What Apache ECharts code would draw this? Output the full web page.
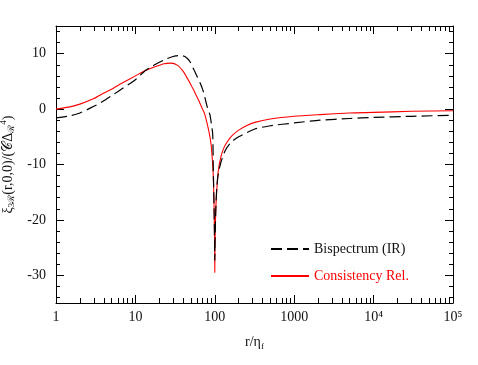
<!DOCTYPE html>
<html><head><meta charset="utf-8">
<script src="https://cdn.jsdelivr.net/npm/echarts@6/dist/echarts.min.js"></script>
<style>html,body{margin:0;padding:0;background:#fff}#c{width:478px;height:365px}</style>
</head><body><div id="c"></div>
<script>
// Data (r/eta_f, value)
const bispR = [1,1.5,2,3,4,5,7,10,13.5,18,25,32,37,42,48,55,65,72,80,87,94,95.5,97,98.5,99.5,100,101,103,106,111,120,135,160,200,320,500,1000,2100,5000,10000,30000,100000];
const bispV = [-1.6,-1.2,-0.7,0.5,1.5,2.4,3.8,5.3,7.0,8.1,9.1,9.6,9.7,9.5,8.7,7.0,4.8,3.1,0.5,-1.1,-4.5,-10,-15,-20,-25,-27.3,-23,-18,-14,-11.5,-9.5,-7.5,-6,-5,-3.6,-3.0,-2.5,-2.0,-1.7,-1.5,-1.3,-1.1];
const consR = [1,1.5,2,3,4,5,7,10,13.5,18,23,28,34,40,50,56,63,70,75,85,90,93,95.3,97,98.5,99.5,100,100.5,102,105,111,120,130,145,165,200,250,320,500,1000,2100,5000,10000,30000,100000];
const consV = [0,0.4,0.9,1.9,2.9,3.6,4.8,6.0,7.0,7.7,8.2,8.3,7.9,6.8,4.4,3.0,1.5,0,-1.0,-4.3,-6.5,-9,-11.5,-15,-20,-25,-29.5,-25,-20,-15.5,-11,-8.5,-7,-5.8,-4.8,-3.8,-3.0,-2.4,-1.8,-1.3,-1.0,-0.7,-0.6,-0.4,-0.3];
const xMajor = [1,10,100,1000,10000,100000];
const xMajorLabels = ['1','10','100','1000','10\u2074','10\u2075'];
const xMinor = [];
for (let d = 1; d < 100000; d *= 10) for (let k = 2; k <= 9; k++) xMinor.push(d*k);
const yMajor = [-30,-20,-10,0,10];
const yMinor = [-34,-32,-28,-26,-24,-22,-18,-16,-14,-12,-8,-6,-4,-2,2,4,6,8,12,14];
const seriesNames = ['Bispectrum (IR)', 'Consistency Rel.'];

const font = '"Liberation Serif", serif';
const zip = (a,b) => a.map((x,i)=>[x,b[i]]);
const axisLineStyle = {color:'#000', width:1};
function xAx(pos, major, showLabel, showLine) {
  return {
    type:'log', logBase:10, min:1, max:100000, position:pos, gridIndex:0,
    axisLine:{show:showLine, onZero:false, lineStyle:axisLineStyle},
    axisTick:{show:true, inside:true, length: major?8:5, customValues: major?xMajor:xMinor, lineStyle:axisLineStyle},
    axisLabel:{show:showLabel, customValues:xMajor, margin:7, color:'#111', fontFamily:font, fontSize:14,
      formatter:(v)=>{const i=xMajor.findIndex(m=>Math.abs(m-v)/m<1e-6);return i>=0?xMajorLabels[i]:'';}},
    splitLine:{show:false},
    name: (showLabel ? 'r/\u03B7{s|f}' : ''), nameLocation:'middle', nameGap:31,
    nameTextStyle:{color:'#111', fontFamily:font, fontSize:14, rich:{s:{fontFamily:font, fontSize:9, padding:[8,0,0,0]}}}
  };
}
function yAx(pos, major, showLabel, showLine) {
  return {
    type:'value', min:-35, max:15, position:pos, gridIndex:0,
    axisLine:{show:showLine, onZero:false, lineStyle:axisLineStyle},
    axisTick:{show:true, inside:true, length: major?8:4, customValues: major?yMajor:yMinor, lineStyle:axisLineStyle},
    axisLabel:{show:showLabel, customValues:yMajor, margin:10, color:'#111', fontFamily:font, fontSize:14},
    splitLine:{show:false},
    name: (showLabel ? '\u03BE{s|3\u211B}(r,0,0)/(\uD835\uDC9E\u0394{s|\u211B}{p|4})' : ''), nameLocation:'middle', nameGap:34, nameRotate:90,
    nameTextStyle:{color:'#111', fontFamily:font, fontSize:14, rich:{s:{fontFamily:font, fontSize:9, padding:[8,0,0,0]}, p:{fontFamily:font, fontSize:9, padding:[0,0,8,0]}}}
  };
}
const chart = echarts.init(document.getElementById('c'));
chart.setOption({
  backgroundColor:'#fff',
  animation:false,
  grid:{left:56, right:25, top:26, bottom:62, containLabel:false, outerBoundsMode:'none'},
  xAxis:[xAx('bottom',true,true,true), xAx('bottom',false,false,false), xAx('top',true,false,true), xAx('top',false,false,false)],
  yAxis:[yAx('left',true,true,true), yAx('left',false,false,false), yAx('right',true,false,true), yAx('right',false,false,false)],
  legend:{
    orient:'vertical', left:265, top:237, itemWidth:38, itemHeight:14, itemGap:13,
    itemStyle:{opacity:0},
    textStyle:{fontFamily:font, fontSize:14},
    data:[{name:seriesNames[0], textStyle:{color:'#111'}},{name:seriesNames[1], textStyle:{color:'#ff0000'}}]
  },
  series:[
    {name:seriesNames[0], type:'line', data:zip(bispR,bispV), showSymbol:false, symbol:'none', smooth:0.2,
     lineStyle:{color:'#000', width:1.2, type:[11,5]}, itemStyle:{color:'#000'}, z:3},
    {name:seriesNames[1], type:'line', data:zip(consR,consV), showSymbol:false, symbol:'none', smooth:0.2,
     lineStyle:{color:'#ff0000', width:1.1}, itemStyle:{color:'#ff0000'}, z:2}
  ]
});
</script></body></html>
